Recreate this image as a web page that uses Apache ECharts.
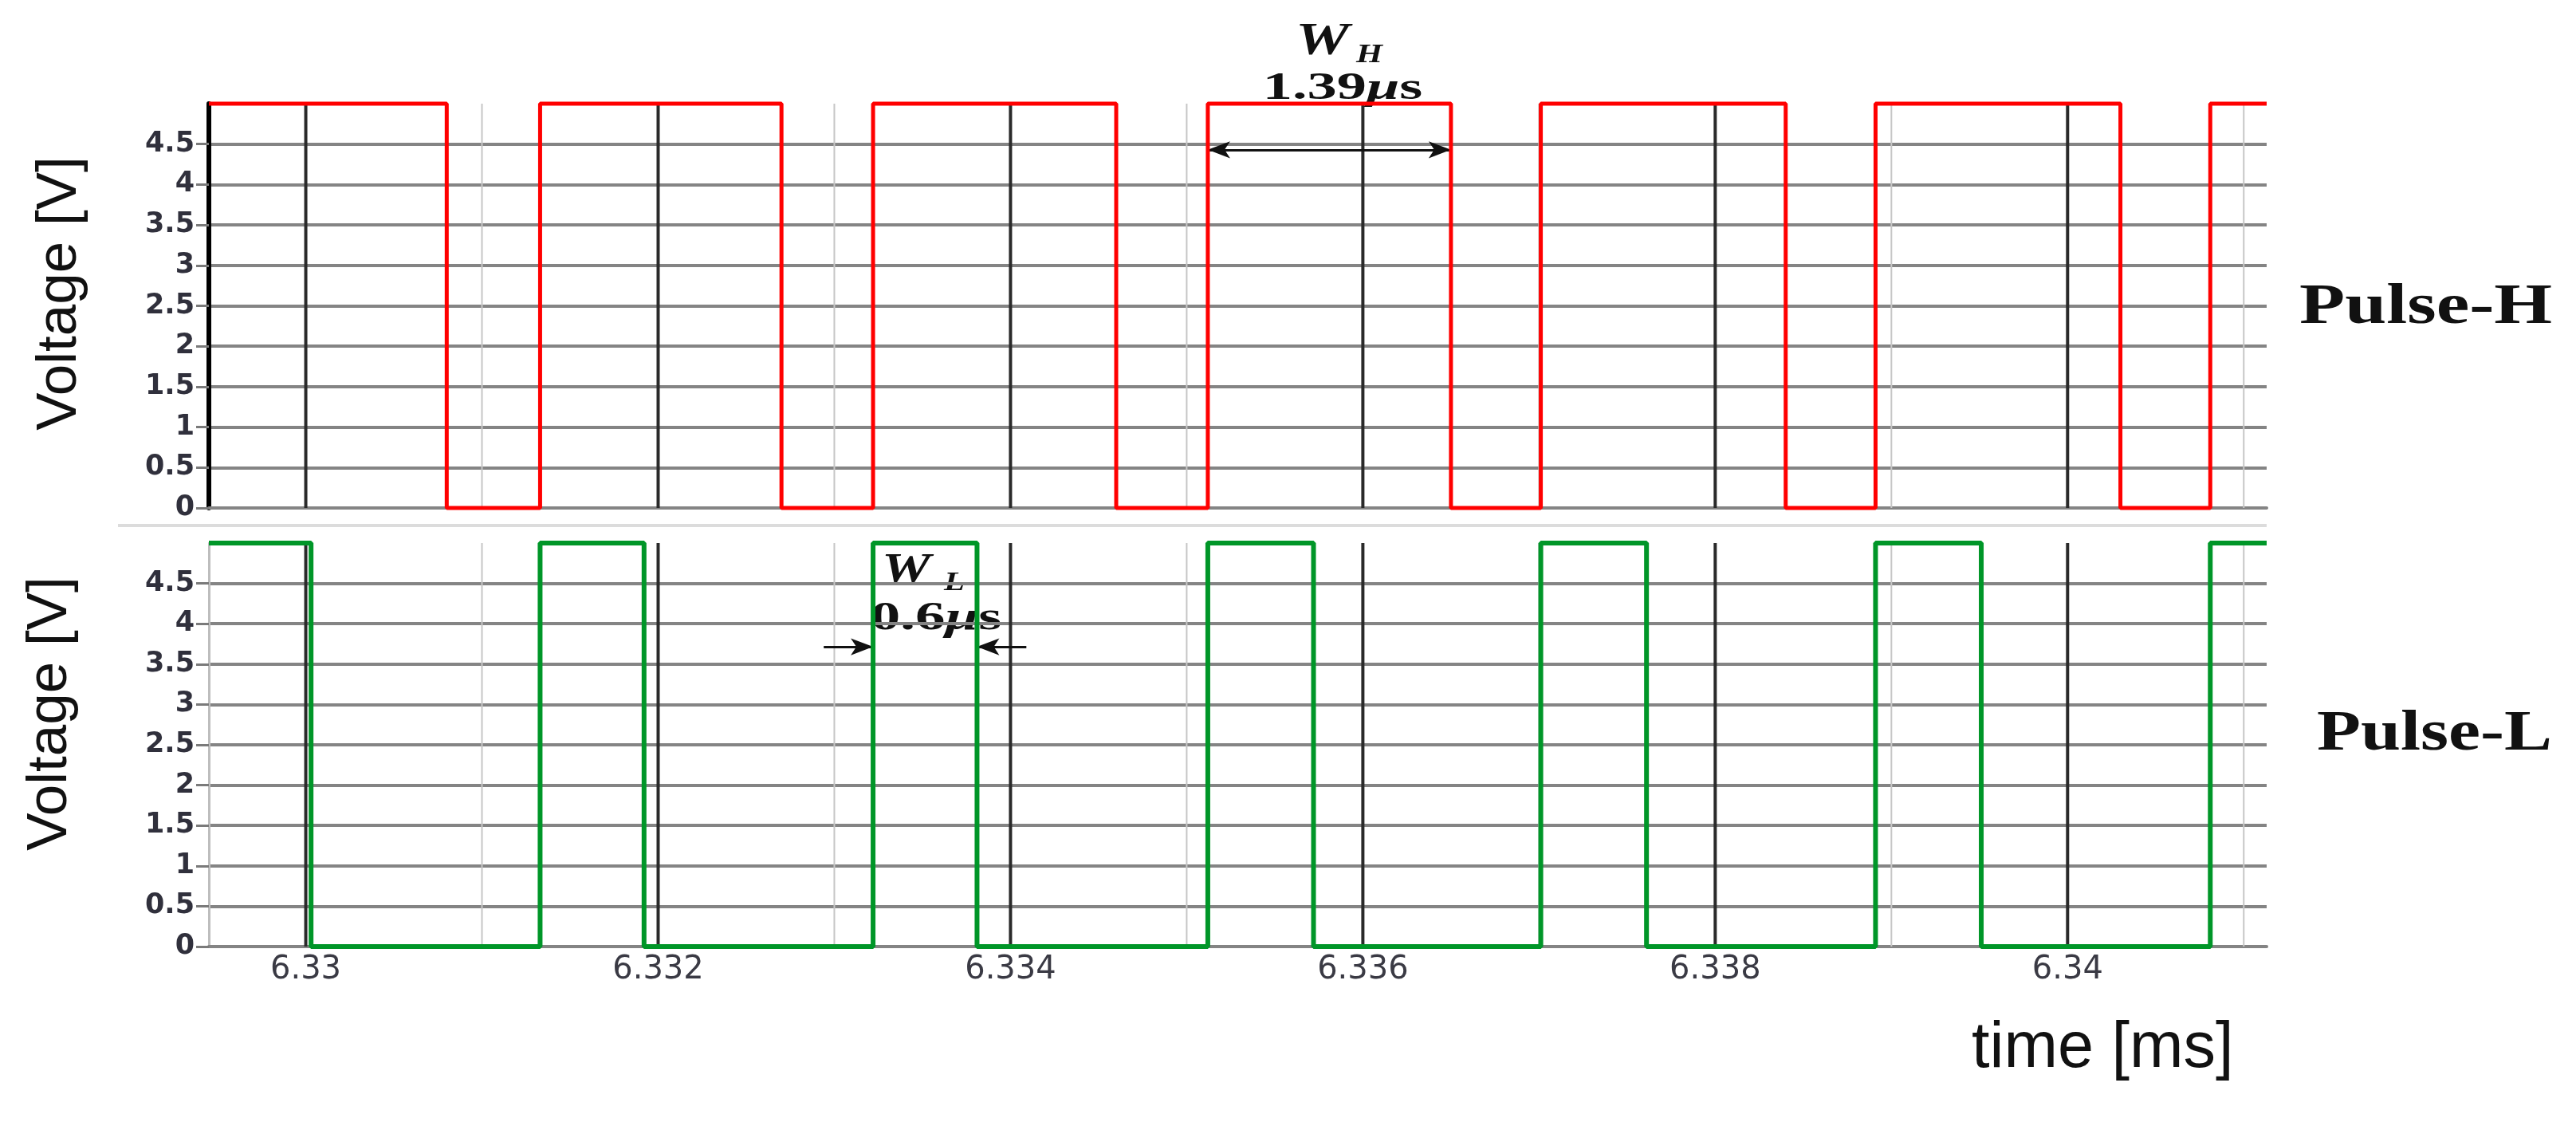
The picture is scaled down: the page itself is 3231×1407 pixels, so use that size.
<!DOCTYPE html>
<html><head><meta charset="utf-8">
<script src="https://cdn.jsdelivr.net/npm/echarts@6/dist/echarts.min.js"></script>
<style>html,body{margin:0;padding:0;background:#fff}#c{width:3231px;height:1407px}</style>
</head><body><div id="c"></div>
<script>
// ---- data (ms) ----
const timeRange = [6.32945, 6.34113];
const majorTimeTicks = [6.330, 6.332, 6.334, 6.336, 6.338, 6.340];
const minorTimeTicks = [6.331, 6.333, 6.335, 6.337, 6.339, 6.341];
const voltRange = [0, 5];
const voltStep = 0.5;
const pulseHRise = [6.33133, 6.33322, 6.33512, 6.33701, 6.33891, 6.34081];
const pulseHFall = [6.33080, 6.33270, 6.33460, 6.33650, 6.33840, 6.34030];
const pulseLRise = [6.33133, 6.33322, 6.33512, 6.33701, 6.33891, 6.34081];
const pulseLFall = [6.33003, 6.33192, 6.33381, 6.33572, 6.33761, 6.33951];
const highLevel = 5, lowLevel = 0;
const startLevelH = 5, startLevelL = 5;

function buildSteps(rises, falls, start) {
  const ev = rises.map(t => [t, highLevel]).concat(falls.map(t => [t, lowLevel]))
    .sort((a, b) => a[0] - b[0]);
  return [[timeRange[0], start]].concat(ev, [[timeRange[1], ev[ev.length - 1][1]]]);
}
const dataH = buildSteps(pulseHRise, pulseHFall, startLevelH);
const dataL = buildSteps(pulseLRise, pulseLFall, startLevelL);

// vertical grid: [time, kind] kind 1 = major, 0 = minor
const vGridData = majorTimeTicks.map(v => [v, 1]).concat(minorTimeTicks.map(v => [v, 0]));

function yAxisCfg(idx, axisColor, axisWidth) {
  return {
    type: 'value', gridIndex: idx, min: voltRange[0], max: voltRange[1], interval: voltStep,
    axisLine: {show: true, lineStyle: {color: axisColor, width: axisWidth}},
    axisTick: {show: true, length: 16, lineStyle: {color: '#7a7a7a', width: 3}},
    axisLabel: {showMaxLabel: false, fontSize: 35, fontWeight: 'bold', color: '#30303c',
      fontFamily: 'DejaVu Sans', margin: 18},
    splitLine: {show: true, showMaxLine: false, showMinLine: false, lineStyle: {color: '#848484', width: 4}}
  };
}
function xAxisCfg(idx, showLabels) {
  return {
    type: 'value', gridIndex: idx, min: timeRange[0], max: timeRange[1],
    axisLine: {show: true, onZero: false, lineStyle: {color: '#848484', width: 4}},
    axisTick: {show: false},
    splitLine: {show: false},
    minorSplitLine: {show: false},
    axisLabel: {show: showLabels, customValues: majorTimeTicks, fontSize: 40, color: '#3a3a44',
      fontFamily: 'DejaVu Sans', margin: 10,
      formatter: v => String(+v.toFixed(3))}
  };
}
function gridSeries(idx) {
  return {type: 'custom', xAxisIndex: idx, yAxisIndex: idx, data: vGridData, silent: true, z: 1,
    encode: {x: 0}, clip: false,
    renderItem: function (params, api) {
      const t = api.value(0), major = api.value(1) === 1;
      const p0 = api.coord([t, voltRange[0]]);
      const p1 = api.coord([t, voltRange[1]]);
      return {type: 'line', shape: {x1: p0[0], y1: p0[1], x2: p1[0], y2: p1[1]},
        style: {stroke: major ? '#2a2a2a' : '#c6c6c6', lineWidth: major ? 4 : 2}};
    }};
}
const arrowY_H = 4.43, arrowY_L = 3.715, arrowLen = 0.00028;
const arrowStyle = {color: '#111', width: 3, type: 'solid', opacity: 1};

const option = {
  animation: false,
  backgroundColor: '#fff',
  grid: [
    {left: 262, top: 130, width: 2581, height: 507, outerBoundsMode: 'none'},
    {left: 262, top: 681, width: 2581, height: 506, outerBoundsMode: 'none'}
  ],
  xAxis: [xAxisCfg(0, false), xAxisCfg(1, true)],
  yAxis: [yAxisCfg(0, '#000', 6), yAxisCfg(1, '#bdbdbd', 3)],
  series: [
    gridSeries(0),
    gridSeries(1),
    {type: 'line', name: 'Pulse-H', xAxisIndex: 0, yAxisIndex: 0, step: 'end', data: dataH,
      symbol: 'none', clip: false, z: 5, lineStyle: {color: '#ff0000', width: 5},
      markLine: {silent: true, symbol: ['arrow', 'arrow'], symbolSize: [16, 28], label: {show: false},
        lineStyle: arrowStyle, animation: false,
        data: [[{coord: [pulseHRise[2], arrowY_H]}, {coord: [pulseHFall[3], arrowY_H]}]]}},
    {type: 'line', name: 'Pulse-L', xAxisIndex: 1, yAxisIndex: 1, step: 'end', data: dataL,
      symbol: 'none', clip: false, z: 5, lineStyle: {color: '#009628', width: 6},
      markLine: {silent: true, symbolSize: [16, 28], label: {show: false}, lineStyle: arrowStyle, animation: false,
        data: [
          [{coord: [pulseLRise[1] - arrowLen, arrowY_L], symbol: 'none'}, {coord: [pulseLRise[1], arrowY_L], symbol: 'arrow'}],
          [{coord: [pulseLFall[2] + arrowLen, arrowY_L], symbol: 'none'}, {coord: [pulseLFall[2], arrowY_L], symbol: 'arrow'}]
        ]}}
  ],
  graphic: [
    {type: 'rect', shape: {x: 148, y: 657, width: 2695, height: 4}, style: {fill: '#dcdcdc'}, silent: true},
    {type: 'text', x: 75, y: 368, rotation: Math.PI / 2,
      style: {text: 'Voltage [V]', fontSize: 71, fontFamily: 'Liberation Sans', fill: '#111', align: 'center', verticalAlign: 'middle'}},
    {type: 'text', x: 63, y: 895, rotation: Math.PI / 2,
      style: {text: 'Voltage [V]', fontSize: 71, fontFamily: 'Liberation Sans', fill: '#111', align: 'center', verticalAlign: 'middle'}},
    {type: 'text', x: 2473, y: 1316,
      style: {text: 'time [ms]', fontSize: 81, fontFamily: 'Liberation Sans', fill: '#111', align: 'left', verticalAlign: 'middle'}},
    {type: 'text', x: 2884, y: 386, scaleX: 1.3,
      style: {text: 'Pulse-H', fontSize: 72, fontWeight: 'bold', fontFamily: 'Liberation Serif', fill: '#111', align: 'left', verticalAlign: 'middle'}},
    {type: 'text', x: 2906, y: 921, scaleX: 1.25,
      style: {text: 'Pulse-L', fontSize: 72, fontWeight: 'bold', fontFamily: 'Liberation Serif', fill: '#111', align: 'left', verticalAlign: 'middle'}},
    {type: 'text', x: 1625, y: 54, scaleX: 1.35,
      style: {text: 'W', fontSize: 56, fontWeight: 'bold', fontStyle: 'italic', fontFamily: 'Liberation Serif', fill: '#111', align: 'left', verticalAlign: 'middle'}},
    {type: 'text', x: 1701, y: 69, scaleX: 1.25,
      style: {text: 'H', fontSize: 34, fontWeight: 'bold', fontStyle: 'italic', fontFamily: 'Liberation Serif', fill: '#111', align: 'left', verticalAlign: 'middle'}},
    {type: 'text', x: 1684, y: 112, scaleX: 1.55,
      style: {text: '{a|1.39}{b|μ}{a|s}', fill: '#111', align: 'center', verticalAlign: 'middle',
        rich: {a: {fontSize: 48, fontWeight: 'bold', fontFamily: 'Liberation Serif', fill: '#111'},
               b: {fontSize: 48, fontWeight: 'bold', fontStyle: 'italic', fontFamily: 'Liberation Serif', fill: '#111'}}}},
    {type: 'text', x: 1106, y: 716, scaleX: 1.3,
      style: {text: 'W', fontSize: 53, fontWeight: 'bold', fontStyle: 'italic', fontFamily: 'Liberation Serif', fill: '#111', align: 'left', verticalAlign: 'middle'}},
    {type: 'text', x: 1184, y: 731, scaleX: 1.25,
      style: {text: 'L', fontSize: 34, fontWeight: 'bold', fontStyle: 'italic', fontFamily: 'Liberation Serif', fill: '#111', align: 'left', verticalAlign: 'middle'}},
    {type: 'text', x: 1174, y: 776, scaleX: 1.5,
      style: {text: '{a|0.6}{b|μ}{a|s}', fill: '#111', align: 'center', verticalAlign: 'middle',
        rich: {a: {fontSize: 50, fontWeight: 'bold', fontFamily: 'Liberation Serif', fill: '#111'},
               b: {fontSize: 50, fontWeight: 'bold', fontStyle: 'italic', fontFamily: 'Liberation Serif', fill: '#111'}}}}
  ]
};
const chart = echarts.init(document.getElementById('c'), null, {renderer: 'canvas'});
chart.setOption(option);
</script></body></html>
